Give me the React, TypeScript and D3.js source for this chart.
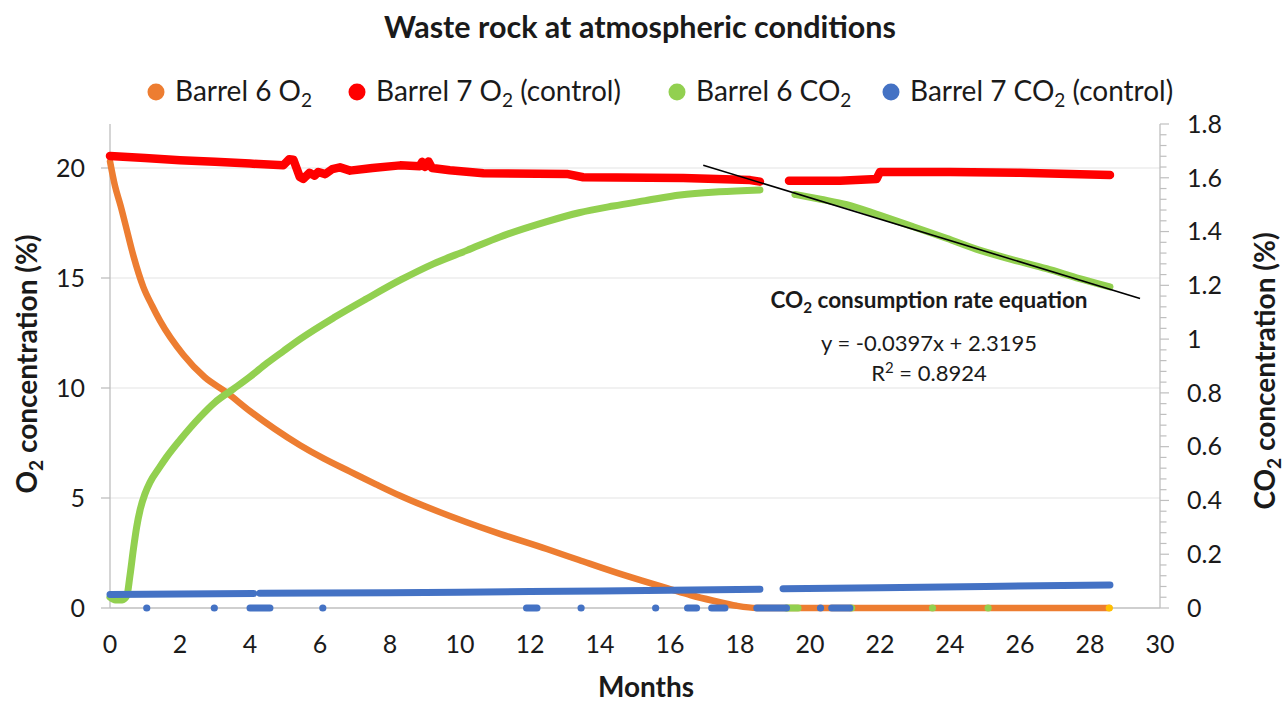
import React from 'react';
import * as d3 from 'd3';

type P = [number, number | null];

// Tick values
const xTicks = [0, 2, 4, 6, 8, 10, 12, 14, 16, 18, 20, 22, 24, 26, 28, 30];
const o2Ticks = [0, 5, 10, 15, 20];
const co2Ticks = [0, 0.2, 0.4, 0.6, 0.8, 1, 1.2, 1.4, 1.6, 1.8];
const co2TickLabels = ['0', '0.2', '0.4', '0.6', '0.8', '1', '1.2', '1.4', '1.6', '1.8'];

// Barrel 6 O2 (%), left axis
const barrel6O2: P[] = [
  [0, 20.3], [0.14, 19.2], [0.3, 18.3], [0.43, 17.5], [0.67, 16.0], [0.95, 14.6], [1.2, 13.75],
  [1.43, 13.05], [2.1, 11.5], [2.7, 10.5], [3.33, 9.8], [4.0, 8.95], [4.7, 8.15], [5.43, 7.4],
  [6.1, 6.8], [6.86, 6.2], [7.6, 5.62], [8.29, 5.1], [9.0, 4.62], [9.71, 4.18], [10.57, 3.68],
  [11.14, 3.37], [12.48, 2.68], [13.4, 2.18], [14.38, 1.65], [15.2, 1.24], [16.0, 0.86],
  [16.6, 0.58], [17.24, 0.33], [17.9, 0.1], [18.48, 0], [22, 0], [25, 0], [28.55, 0],
];

// Barrel 7 O2 (control) (%), left axis
const barrel7O2: P[] = [
  [0, 20.55], [1, 20.45], [2, 20.35], [3, 20.28], [4.0, 20.2], [4.95, 20.12], [5.12, 20.4],
  [5.24, 20.38], [5.42, 19.6], [5.52, 19.5], [5.7, 19.78], [5.85, 19.65], [5.95, 19.82],
  [6.15, 19.72], [6.35, 19.95], [6.57, 20.03], [6.86, 19.88], [7.5, 20.0], [8.29, 20.12],
  [8.85, 20.08], [8.92, 20.28], [9.0, 20.05], [9.1, 20.3], [9.2, 20.0], [9.71, 19.9],
  [10.67, 19.76], [13.05, 19.73], [13.52, 19.58], [16.38, 19.55], [18.29, 19.45],
  [18.57, 19.38], [18.9, null],
  [19.4, 19.42], [20.86, 19.42], [21.9, 19.5], [22.0, 19.82], [24, 19.82], [26, 19.78],
  [28.57, 19.68],
];

// Barrel 6 CO2 (%), right axis
const barrel6CO2: P[] = [
  [0, 0.04], [0.15, 0.03], [0.35, 0.03], [0.48, 0.045], [0.57, 0.12], [0.67, 0.22],
  [0.76, 0.3], [0.86, 0.365], [1.0, 0.425], [1.14, 0.467], [1.4, 0.52], [1.62, 0.562],
  [2.0, 0.625], [2.57, 0.71], [3.0, 0.765], [3.52, 0.814], [4.0, 0.86], [4.48, 0.91],
  [4.95, 0.955], [5.43, 1.0], [6.4, 1.08], [7.33, 1.15], [8.3, 1.22], [9.24, 1.28], [10.2, 1.33],
  [11.14, 1.38], [12.48, 1.437], [13.4, 1.47], [14.38, 1.495], [15.3, 1.515],
  [16.29, 1.536], [17.4, 1.548], [18.57, 1.555], [19.0, null],
  [19.57, 1.538], [20.3, 1.52], [21.05, 1.5], [22.0, 1.46], [22.95, 1.418], [23.9, 1.375],
  [24.86, 1.33], [25.8, 1.295], [26.76, 1.262], [27.7, 1.225], [28.57, 1.194],
];
const barrel6CO2Zero: [number, number][] = [[19.33, 19.66], [21.19, 21.19], [23.5, 23.5], [25.09, 25.09]];

// Barrel 7 CO2 (control) (%), right axis
const barrel7CO2: P[] = [
  [0, 0.05], [2, 0.052], [4.1, 0.054], [4.18, null], [4.28, 0.055], [6, 0.056], [8, 0.057],
  [10, 0.059], [12, 0.061], [14, 0.063], [16, 0.066], [18.57, 0.07], [18.9, null],
  [19.23, 0.072], [22, 0.075], [25, 0.08], [28.57, 0.086],
];
const barrel7CO2Zero: [number, number][] = [
  [1.05, 1.05], [2.98, 2.98], [4.0, 4.57], [6.08, 6.08], [11.9, 12.2], [13.46, 13.46],
  [15.59, 15.59], [16.5, 16.76], [17.19, 17.57], [18.48, 19.33], [20.3, 20.3], [20.62, 21.14],
];
const lastReading: [number, number] = [28.55, 0];

// Linear trend line on Barrel 6 CO2 decline
const trendFrom = 16.95;
const trendTo = 29.43;
const trendSlope = -0.0397;
const trendIntercept = 2.3195;

const legendItems = [
  { label: 'Barrel 6 O₂', color: '#ED7D31' },
  { label: 'Barrel 7 O₂ (control)', color: '#FF0000' },
  { label: 'Barrel 6 CO₂', color: '#92D050' },
  { label: 'Barrel 7 CO₂ (control)', color: '#4472C4' },
];

const FONT = "Lato, 'Open Sans', 'DejaVu Sans', sans-serif";

function rich(s: string, fs: number) {
  const segs: { t: string; k: 'n' | 'sub' | 'sup' }[] = [];
  let buf = '';
  for (const ch of s) {
    if (ch === '₂' || ch === '²') {
      if (buf) { segs.push({ t: buf, k: 'n' }); buf = ''; }
      segs.push({ t: '2', k: ch === '₂' ? 'sub' : 'sup' });
    } else buf += ch;
  }
  if (buf) segs.push({ t: buf, k: 'n' });
  let cur = 0;
  return segs.map((sg, i) => {
    const target = sg.k === 'sub' ? fs * 0.2 : sg.k === 'sup' ? -fs * 0.38 : 0;
    const dy = target - cur;
    cur = target;
    return (
      <tspan key={i} dy={dy} fontSize={sg.k === 'n' ? fs : fs * 0.68}>
        {sg.t}
      </tspan>
    );
  });
}

export default function App() {
  const W = 1287, H = 703;
  const x = d3.scaleLinear().domain([0, 30]).range([110, 1160]);
  const yL = d3.scaleLinear().domain([0, 22]).range([608, 124]);
  const yR = d3.scaleLinear().domain([0, 1.8]).range([608, 124]);

  const lineL = d3.line<P>().defined(d => d[1] !== null).x(d => x(d[0])).y(d => yL(d[1] as number)).curve(d3.curveMonotoneX);
  const lineLLin = d3.line<P>().defined(d => d[1] !== null).x(d => x(d[0])).y(d => yL(d[1] as number));
  const lineR = d3.line<P>().defined(d => d[1] !== null).x(d => x(d[0])).y(d => yR(d[1] as number)).curve(d3.curveMonotoneX);
  const lineRLin = d3.line<P>().defined(d => d[1] !== null).x(d => x(d[0])).y(d => yR(d[1] as number));

  const minorR = d3.range(0, 1.8001, 0.04);
  const axisColor = '#BFBFBF';
  const gridColor = '#E4E4E4';
  const textColor = '#1a1a1a';
  const legendFs = 28;
  const tickFs = 25;
  const axisTitleFs = 28;

  const zeroMarks = (ranges: [number, number][], color: string, key: string) =>
    ranges.map((r, i) =>
      r[0] === r[1] ? (
        <circle key={key + i} cx={x(r[0])} cy={yR(0)} r={3.6} fill={color} />
      ) : (
        <line key={key + i} x1={x(r[0])} x2={x(r[1])} y1={yR(0)} y2={yR(0)} stroke={color} strokeWidth={7} strokeLinecap="round" />
      )
    );

  return (
    <svg width={W} height={H} style={{ position: 'absolute', left: 0, top: 0, background: '#fff' }} fontFamily={FONT}>
      <rect x={0} y={0} width={W} height={H} fill="#fff" />
      {/* Title */}
      <text x={640} y={38} textAnchor="middle" fontSize={30.5} fontWeight="bold" fill={textColor}>
        Waste rock at atmospheric conditions
      </text>

      {/* Legend */}
      {legendItems.map((it, i) => {
        const cxs = [156, 357, 677, 891];
        return (
          <g key={it.label}>
            <circle cx={cxs[i]} cy={92} r={8.5} fill={it.color} />
            <text x={cxs[i] + 19} y={101} fontSize={legendFs} fill={textColor}>
              {rich(it.label, legendFs)}
            </text>
          </g>
        );
      })}

      {/* Gridlines */}
      {o2Ticks.filter(t => t > 0).map(t => (
        <line key={'g' + t} x1={x(0)} x2={x(30)} y1={yL(t)} y2={yL(t)} stroke={gridColor} strokeWidth={1.2} />
      ))}

      {/* Axes */}
      <line x1={x(0)} x2={x(0)} y1={yL(22)} y2={yL(0)} stroke={axisColor} strokeWidth={1.3} />
      <line x1={x(30)} x2={x(30)} y1={yR(1.8)} y2={yR(0)} stroke={axisColor} strokeWidth={1.3} />
      <line x1={x(0)} x2={x(30)} y1={yL(0)} y2={yL(0)} stroke={axisColor} strokeWidth={1.3} />

      {o2Ticks.map(t => (
        <g key={'l' + t}>
          <line x1={x(0) - 9} x2={x(0)} y1={yL(t)} y2={yL(t)} stroke={axisColor} strokeWidth={1.3} />
          <text x={85} y={yL(t)} dy="0.35em" textAnchor="end" fontSize={tickFs} fill={textColor}>{t}</text>
        </g>
      ))}
      {minorR.map((t, i) => (
        <line key={'m' + i} x1={x(30)} x2={x(30) + (i % 5 === 0 ? 9 : 6.5)} y1={yR(t)} y2={yR(t)} stroke={axisColor} strokeWidth={1.2} />
      ))}
      {co2Ticks.map((t, i) => (
        <text key={'r' + t} x={1187} y={yR(t)} dy="0.35em" fontSize={tickFs} fill={textColor}>{co2TickLabels[i]}</text>
      ))}
      {xTicks.map(t => (
        <text key={'x' + t} x={x(t)} y={653} textAnchor="middle" fontSize={tickFs} fill={textColor}>{t}</text>
      ))}

      {/* Axis titles */}
      <text transform="translate(37,364) rotate(-90)" textAnchor="middle" fontSize={axisTitleFs} fontWeight="bold" fill={textColor}>
        {rich('O₂ concentration (%)', axisTitleFs)}
      </text>
      <text transform="translate(1275,371) rotate(-90)" textAnchor="middle" fontSize={axisTitleFs} fontWeight="bold" fill={textColor}>
        {rich('CO₂ concentration (%)', axisTitleFs)}
      </text>
      <text x={646} y={697} textAnchor="middle" fontSize={axisTitleFs} fontWeight="bold" fill={textColor}>Months</text>

      {/* Series */}
      <path d={lineL(barrel6O2) || ''} fill="none" stroke="#ED7D31" strokeWidth={6.5} strokeLinecap="round" strokeLinejoin="round" />
      <path d={lineLLin(barrel7O2) || ''} fill="none" stroke="#FF0000" strokeWidth={8.5} strokeLinecap="round" strokeLinejoin="round" />
      <path d={lineR(barrel6CO2) || ''} fill="none" stroke="#92D050" strokeWidth={7} strokeLinecap="round" strokeLinejoin="round" />
      {zeroMarks(barrel6CO2Zero, '#92D050', 'gz')}
      <path d={lineRLin(barrel7CO2) || ''} fill="none" stroke="#4472C4" strokeWidth={7} strokeLinecap="round" strokeLinejoin="round" />
      {zeroMarks(barrel7CO2Zero, '#4472C4', 'bz')}
      <circle cx={x(lastReading[0])} cy={yL(lastReading[1])} r={3.6} fill="#FFC000" />

      {/* Trend line */}
      <line
        x1={x(trendFrom)} y1={yR(trendSlope * trendFrom + trendIntercept)}
        x2={x(trendTo)} y2={yR(trendSlope * trendTo + trendIntercept)}
        stroke="#000" strokeWidth={1.6}
      />

      {/* Trend annotation */}
      <text x={929} y={308} textAnchor="middle" fontSize={22.5} fontWeight="bold" fill={textColor}>
        {rich('CO₂ consumption rate equation', 22.5)}
      </text>
      <text x={929} y={351} textAnchor="middle" fontSize={22} fill={textColor}>y = -0.0397x + 2.3195</text>
      <text x={929} y={381} textAnchor="middle" fontSize={22} fill={textColor}>
        {rich('R² = 0.8924', 22)}
      </text>
    </svg>
  );
}
